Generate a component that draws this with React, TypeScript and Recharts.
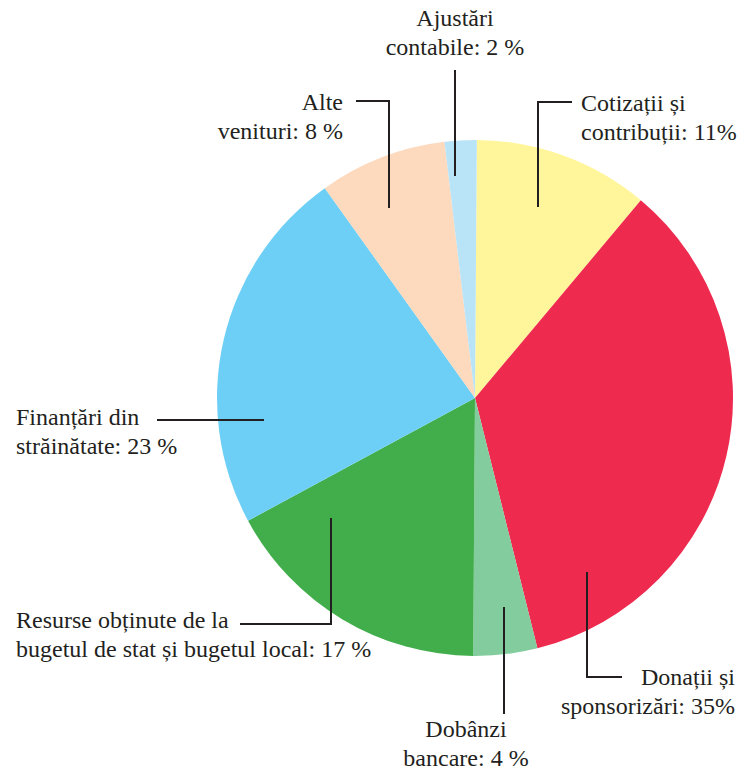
import { PieChart, Pie, Cell } from 'recharts';

const categories = [
  'Cotizații și contribuții',
  'Donații și sponsorizări',
  'Dobânzi bancare',
  'Resurse obținute de la bugetul de stat și bugetul local',
  'Finanțări din străinătate',
  'Alte venituri',
  'Ajustări contabile',
];
const values = [11, 35, 4, 17, 23, 8, 2];
const labelFirst = ['Cotizații și', 'Donații și', 'Dobânzi', 'Resurse obținute de la', 'Finanțări din', 'Alte', 'Ajustări'];
const labelSecond = ['contribuții: 11%', 'sponsorizări: 35%', 'bancare: 4 %', 'bugetul de stat și bugetul local: 17 %', 'străinătate: 23 %', 'venituri: 8 %', 'contabile: 2 %'];
const colors = ['#FFF59A', '#EE2A4F', '#82CC9D', '#41AE4B', '#6DCFF6', '#FDD9BD', '#B9E4F7'];

const data = categories.map((name, i) => ({ name, value: values[i] }));

// leader line points and text placement, relative to the pie centre
const callouts = [
  { pts: [[63, -191], [63, -296], [97, -296]], tx: 106, anchor: 'start', ty: -287 },
  { pts: [[112, 174], [112, 279], [147, 279]], tx: 260, anchor: 'end', ty: 287 },
  { pts: [[29, 209], [29, 316]], tx: -9, anchor: 'middle', ty: 339 },
  { pts: [[-144, 120], [-144, 226], [-235, 226]], tx: -459, anchor: 'start', ty: 230 },
  { pts: [[-211, 22], [-318, 22]], tx: -459, anchor: 'start', ty: 27 },
  { pts: [[-86, -190], [-86, -297], [-119, -297]], tx: -132, anchor: 'end', ty: -288 },
  { pts: [[-20, -222], [-20, -328]], tx: -20, anchor: 'middle', ty: -372 },
];

const renderLine = (props: any) => {
  const { cx, cy, index } = props;
  const c = callouts[index];
  const d = c.pts.map((p, k) => `${k === 0 ? 'M' : 'L'}${cx + p[0]},${cy + p[1]}`).join(' ');
  return <path key={`line-${index}`} d={d} stroke="#231F20" strokeWidth={2} fill="none" />;
};

const renderLabel = (props: any) => {
  const { cx, cy, index } = props;
  const c = callouts[index];
  return (
    <>
      <text className="pie-lbl" x={cx + c.tx} y={cy + c.ty} textAnchor={c.anchor} fill="#231F20" fontFamily="Liberation Serif" fontSize={24}>
        {labelFirst[index]}
      </text>
      <text className="pie-lbl" x={cx + c.tx} y={cy + c.ty + 29} textAnchor={c.anchor} fill="#231F20" fontFamily="Liberation Serif" fontSize={24}>
        {labelSecond[index]}
      </text>
    </>
  );
};

export default function App() {
  return (
    <div style={{ position: 'absolute', left: 0, top: 0, width: 744, height: 770, background: '#fff' }}>
      <PieChart width={744} height={770} margin={{ top: 0, right: 0, bottom: 0, left: 0 }}>
        <Pie
          data={data}
          dataKey="value"
          nameKey="name"
          cx={475}
          cy={398}
          outerRadius={258}
          startAngle={89.6}
          endAngle={-270.4}
          stroke="none"
          label={renderLabel}
          labelLine={renderLine}
          isAnimationActive={false}
        >
          {data.map((d, i) => (
            <Cell key={d.name} fill={colors[i]} />
          ))}
        </Pie>
      </PieChart>
    </div>
  );
}
